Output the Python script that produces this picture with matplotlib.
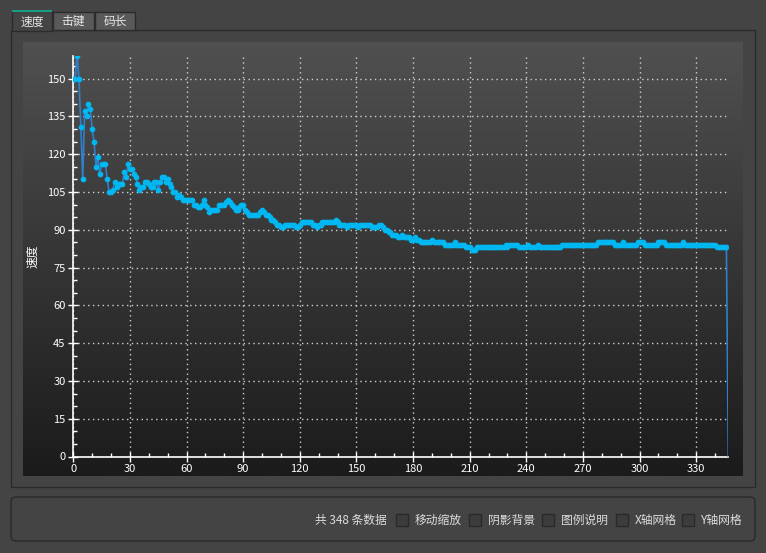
import numpy as np
import matplotlib
matplotlib.use("Agg")
import matplotlib.pyplot as plt
from matplotlib.patches import Rectangle, FancyBboxPatch

plt.rcParams['font.family'] = ['Noto Sans CJK SC', 'DejaVu Sans']

# speed per record (348 records)
speed = [
    150, 150, 159, 150, 131, 110, 137, 135, 140, 138, 130, 125, 115, 119, 112, 116, 116, 116, 110, 105,
    105, 106, 109, 107, 108, 108, 108, 113, 111, 116, 114, 114, 112, 111, 108, 106, 107, 107, 109, 109,
    108, 107, 107, 109, 109, 106, 109, 111, 111, 109, 110, 108, 107, 105, 105, 103, 104, 103, 102, 102,
    102, 102, 102, 102, 100, 100, 99, 99, 100, 102, 100, 99, 97, 98, 98, 98, 98, 100, 100, 100,
    100, 101, 102, 101, 100, 99, 98, 98, 99, 100, 100, 98, 97, 96, 96, 96, 96, 96, 96, 97,
    98, 97, 96, 96, 95, 94, 94, 93, 92, 92, 91, 91, 92, 92, 92, 92, 92, 92, 91, 91,
    92, 93, 93, 93, 93, 93, 93, 92, 92, 91, 92, 92, 93, 93, 93, 93, 93, 93, 93, 94,
    93, 92, 92, 92, 92, 91, 92, 92, 92, 92, 92, 91, 92, 92, 92, 92, 92, 92, 91, 91,
    91, 91, 92, 92, 91, 90, 90, 89, 89, 88, 88, 88, 87, 87, 88, 87, 87, 87, 87, 86,
    86, 87, 86, 86, 85, 85, 85, 85, 85, 85, 86, 85, 85, 85, 85, 85, 85, 84, 84, 84,
    84, 84, 85, 84, 84, 84, 84, 84, 83, 83, 83, 82, 82, 82, 83, 83, 83, 83, 83, 83,
    83, 83, 83, 83, 83, 83, 83, 83, 83, 84, 83, 84, 84, 84, 84, 84, 83, 83, 83, 83,
    83, 84, 83, 83, 83, 83, 84, 83, 83, 83, 83, 83, 83, 83, 83, 83, 83, 83, 83, 84,
    84, 84, 84, 84, 84, 84, 84, 84, 84, 84, 84, 84, 84, 84, 84, 84, 84, 84, 85, 85,
    85, 85, 85, 85, 85, 85, 85, 84, 84, 84, 84, 85, 84, 84, 84, 84, 84, 84, 84, 85,
    85, 85, 85, 84, 84, 84, 84, 84, 84, 84, 85, 85, 85, 85, 84, 84, 84, 84, 84, 84,
    84, 84, 84, 85, 84, 84, 84, 84, 84, 84, 84, 84, 84, 84, 84, 84, 84, 84, 84, 84,
    84, 83, 83, 83, 83, 83, 83, 0,
]
x_ticks = list(range(0, 331, 30))
y_ticks = list(range(0, 151, 15))
tabs = ["速度", "击键", "码长"]
options = ["移动缩放", "阴影背景", "图例说明", "X轴网格", "Y轴网格"]
summary = "共 348 条数据"

W, H = 766, 553
fig = plt.figure(figsize=(W / 100, H / 100), dpi=100)
fig.patch.set_facecolor('#444444')

# overlay in pixel coordinates for the widget chrome
bg = fig.add_axes([0, 0, 1, 1])
bg.set_xlim(0, W)
bg.set_ylim(H, 0)
bg.axis('off')

# tab pane frame
bg.add_patch(Rectangle((11, 30), 744, 457, facecolor='#444444', edgecolor='#2b2b2b', lw=1))
# chart gradient background
grad = np.linspace(0, 1, 256).reshape(-1, 1)
top = np.array([80, 80, 80]) / 255
bot = np.array([27, 27, 27]) / 255
img = top[None, None, :] * (1 - grad[:, :, None]) + bot[None, None, :] * grad[:, :, None]
bg.imshow(img, extent=(23, 743, 476, 42), aspect='auto', zorder=1)

# tabs
tab_x = [(12, 52), (53, 94), (95, 135)]
for i, (name, (x0, x1)) in enumerate(zip(tabs, tab_x)):
    if i == 0:
        bg.add_patch(Rectangle((x0, 11), x1 - x0, 20, facecolor='#444444', edgecolor='#2b2b2b', lw=1, zorder=3))
        bg.add_patch(Rectangle((x0, 10), x1 - x0, 2, facecolor='#15a085', edgecolor='none', zorder=4))
        bg.text((x0 + x1) / 2, 22, name, color='#e6e6e6', fontsize=8.5, ha='center', va='center', zorder=5)
    else:
        bg.add_patch(Rectangle((x0, 12), x1 - x0, 18, facecolor='#595959', edgecolor='#2b2b2b', lw=1, zorder=3))
        bg.text((x0 + x1) / 2, 21, name, color='#e6e6e6', fontsize=8.5, ha='center', va='center', zorder=5)

# bottom option panel
bg.add_patch(FancyBboxPatch((11, 497), 744, 44, boxstyle="round,pad=0,rounding_size=5",
                            facecolor='#444444', edgecolor='#2b2b2b', lw=1))
bg.text(387, 520, summary, color='#dddddd', fontsize=8.5, ha='right', va='center')
box_x = [396, 469, 542, 616, 682]
for bx, name in zip(box_x, options):
    bg.add_patch(Rectangle((bx, 514), 12, 12, facecolor='#3c3c3c', edgecolor='#2a2a2a', lw=1))
    bg.text(bx + 19, 520, name, color='#dddddd', fontsize=8.5, ha='left', va='center')

# the chart itself
ax = fig.add_axes([73.3 / W, 1 - 456.5 / H, 655 / W, 400.5 / H])
ax.patch.set_alpha(0)
x = np.arange(len(speed))
ax.plot(x, speed, color='#2f7fcb', lw=1.2, marker='o', markersize=3.1,
        markevery=list(range(len(speed) - 1)),
        markerfacecolor='#00b7f1', markeredgecolor='#00b7f1', zorder=3)

ax.set_xlim(0, len(speed) - 1)
ax.set_ylim(0, max(speed))
ax.set_xticks(x_ticks)
ax.set_yticks(y_ticks)
ax.set_xticks(range(0, 347, 10), minor=True)
ax.set_yticks(range(0, 159, 5), minor=True)
ax.tick_params(which='major', direction='inout', length=7, width=1, colors='white',
               labelsize=8, pad=2)
ax.tick_params(which='minor', direction='in', length=3, width=1, colors='white')
ax.grid(True, which='major', color='#d0d0d0', linestyle=(0, (1, 2.5)), lw=1)
for s in ['top', 'right']:
    ax.spines[s].set_visible(False)
for s in ['left', 'bottom']:
    ax.spines[s].set_color('white')
    ax.spines[s].set_linewidth(1.2)
ax.set_ylabel("速度", color='white', fontsize=8.5)
ax.yaxis.set_label_coords(-0.052, 0.5)

fig.savefig("out.png", dpi=100, facecolor=fig.get_facecolor())
